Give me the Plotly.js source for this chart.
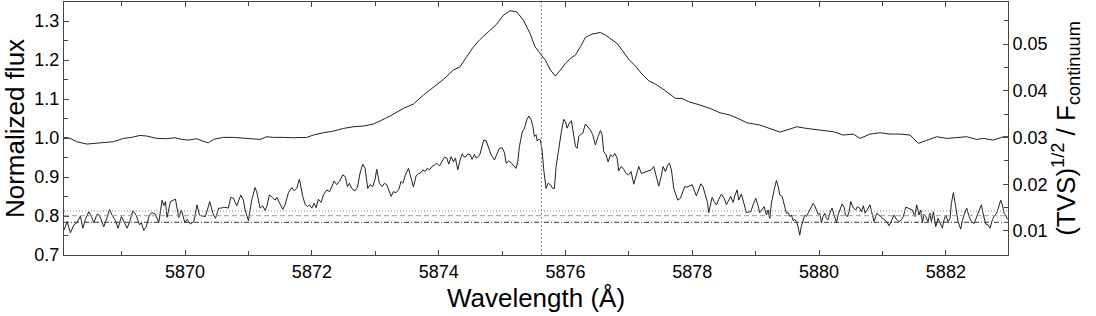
<!DOCTYPE html>
<html>
<head>
<meta charset="utf-8">
<script src="https://cdn.plot.ly/plotly-3.0.1.min.js"></script>
<style>
  html, body { margin: 0; padding: 0; background: #fff; }
  #chart { width: 1096px; height: 316px; }
</style>
</head>
<body>
<div id="chart"></div>
<script>
// normalized line profile (left axis)
const profWl = [5868.09, 5868.107, 5868.186, 5868.291, 5868.449, 5868.606, 5868.764, 5868.869, 5869.027, 5869.158,
  5869.290, 5869.395, 5869.553, 5869.710, 5869.842, 5869.947, 5870.052, 5870.184, 5870.289, 5870.368,
  5870.447, 5870.604, 5870.762, 5870.920, 5871.077, 5871.183, 5871.288, 5871.393, 5871.551, 5871.708,
  5871.919, 5872.024, 5872.182, 5872.339, 5872.497, 5872.655, 5872.812, 5872.970, 5873.102, 5873.233,
  5873.443, 5873.601, 5873.759, 5873.917, 5874.074, 5874.232, 5874.337, 5874.442, 5874.548, 5874.653,
  5874.784, 5874.916, 5875.021, 5875.126, 5875.231, 5875.336, 5875.441, 5875.520, 5875.620, 5875.683,
  5875.762, 5875.841, 5875.920, 5875.999, 5876.078, 5876.157, 5876.235, 5876.314, 5876.419, 5876.551,
  5876.630, 5876.735, 5876.814, 5876.893, 5876.998, 5877.103, 5877.208, 5877.313, 5877.418, 5877.524,
  5877.629, 5877.734, 5877.839, 5877.944, 5878.123, 5878.280, 5878.438, 5878.596, 5878.754, 5878.859,
  5879.069, 5879.227, 5879.385, 5879.490, 5879.647, 5879.805, 5879.963, 5880.121, 5880.226, 5880.383,
  5880.541, 5880.646, 5880.804, 5880.962, 5881.120, 5881.277, 5881.435, 5881.566, 5881.698, 5881.856,
  5882.013, 5882.171, 5882.329, 5882.487, 5882.592, 5882.749, 5882.907, 5882.98];
const profFlux = [1.0000, 1.0017, 0.9991, 0.9906, 0.9846, 0.9863, 0.9880, 0.9906, 0.9991, 1.0017,
  1.0068, 1.0051, 0.9991, 0.9983, 1.0008, 0.9965, 0.9948, 0.9983, 0.9914, 0.9880,
  0.9965, 1.0017, 1.0017, 1.0000, 0.9965, 0.9965, 1.0034, 1.0017, 1.0017, 1.0008,
  1.0017, 1.0077, 1.0136, 1.0179, 1.0247, 1.0290, 1.0307, 1.0359, 1.0461, 1.0564,
  1.0760, 1.0871, 1.1102, 1.1299, 1.1504, 1.1743, 1.1829, 1.2085, 1.2341, 1.2530,
  1.2726, 1.2923, 1.3153, 1.3265, 1.3239, 1.3025, 1.2683, 1.2341, 1.2128, 1.2000,
  1.1744, 1.1590, 1.1744, 1.1914, 1.2042, 1.2128, 1.2341, 1.2581, 1.2666, 1.2709,
  1.2641, 1.2530, 1.2427, 1.2256, 1.2017, 1.1846, 1.1641, 1.1470, 1.1384, 1.1273,
  1.1145, 1.1017, 1.1017, 1.0931, 1.0846, 1.0760, 1.0649, 1.0589, 1.0478, 1.0393,
  1.0333, 1.0247, 1.0153, 1.0205, 1.0290, 1.0247, 1.0222, 1.0188, 1.0162, 1.0077,
  1.0102, 0.9991, 1.0102, 1.0136, 1.0102, 1.0102, 1.0077, 0.9863, 0.9948, 1.0034,
  0.9991, 1.0017, 1.0034, 0.9965, 0.9991, 0.9948, 1.0034, 1.0034];

// (TVS)^1/2 / F_continuum (right axis)
const tvsWl = [5868.090, 5868.102, 5868.139, 5868.191, 5868.244, 5868.297, 5868.349, 5868.386, 5868.428, 5868.481,
  5868.523, 5868.560, 5868.612, 5868.649, 5868.717, 5868.770, 5868.807, 5868.849, 5868.901, 5868.943,
  5868.996, 5869.085, 5869.127, 5869.175, 5869.227, 5869.280, 5869.311, 5869.348, 5869.385, 5869.438,
  5869.480, 5869.532, 5869.585, 5869.637, 5869.664, 5869.690, 5869.716, 5869.769, 5869.848, 5869.900,
  5869.942, 5869.995, 5870.032, 5870.084, 5870.137, 5870.189, 5870.226, 5870.268, 5870.321, 5870.389,
  5870.437, 5870.479, 5870.531, 5870.573, 5870.610, 5870.683, 5870.720, 5870.762, 5870.815, 5870.878,
  5870.920, 5870.946, 5870.999, 5871.051, 5871.104, 5871.130, 5871.183, 5871.225, 5871.262, 5871.288,
  5871.330, 5871.377, 5871.420, 5871.446, 5871.498, 5871.540, 5871.577, 5871.630, 5871.682, 5871.719,
  5871.761, 5871.803, 5871.856, 5871.893, 5871.930, 5871.961, 5871.998, 5872.035, 5872.066, 5872.103,
  5872.145, 5872.182, 5872.234, 5872.277, 5872.313, 5872.350, 5872.392, 5872.434, 5872.487, 5872.529,
  5872.560, 5872.592, 5872.629, 5872.681, 5872.718, 5872.760, 5872.802, 5872.839, 5872.881, 5872.918,
  5872.960, 5872.997, 5873.023, 5873.065, 5873.108, 5873.144, 5873.181, 5873.223, 5873.250, 5873.286,
  5873.328, 5873.371, 5873.407, 5873.434, 5873.476, 5873.523, 5873.565, 5873.602, 5873.644, 5873.686,
  5873.723, 5873.749, 5873.786, 5873.817, 5873.854, 5873.896, 5873.933, 5873.970, 5874.012, 5874.049,
  5874.091, 5874.128, 5874.159, 5874.196, 5874.233, 5874.264, 5874.301, 5874.338, 5874.370, 5874.396,
  5874.422, 5874.459, 5874.496, 5874.527, 5874.564, 5874.590, 5874.627, 5874.653, 5874.685, 5874.711,
  5874.748, 5874.790, 5874.827, 5874.880, 5874.916, 5874.958, 5875.000, 5875.037, 5875.064, 5875.106,
  5875.142, 5875.179, 5875.221, 5875.247, 5875.274, 5875.316, 5875.353, 5875.390, 5875.421, 5875.458,
  5875.484, 5875.510, 5875.537, 5875.552, 5875.578, 5875.604, 5875.631, 5875.657, 5875.694, 5875.725,
  5875.762, 5875.799, 5875.825, 5875.852, 5875.894, 5875.936, 5875.972, 5875.999, 5876.025, 5876.062,
  5876.093, 5876.130, 5876.157, 5876.183, 5876.209, 5876.235, 5876.272, 5876.314, 5876.356, 5876.393,
  5876.430, 5876.472, 5876.514, 5876.551, 5876.577, 5876.603, 5876.640, 5876.672, 5876.709, 5876.745,
  5876.777, 5876.814, 5876.840, 5876.882, 5876.919, 5876.956, 5876.998, 5877.035, 5877.077, 5877.113,
  5877.156, 5877.198, 5877.234, 5877.271, 5877.313, 5877.355, 5877.392, 5877.429, 5877.471, 5877.508,
  5877.539, 5877.576, 5877.613, 5877.639, 5877.671, 5877.708, 5877.744, 5877.771, 5877.813, 5877.849,
  5877.881, 5877.918, 5877.955, 5877.997, 5878.065, 5878.102, 5878.134, 5878.171, 5878.207, 5878.239,
  5878.260, 5878.292, 5878.313, 5878.344, 5878.381, 5878.418, 5878.460, 5878.502, 5878.539, 5878.565,
  5878.607, 5878.644, 5878.670, 5878.707, 5878.733, 5878.775, 5878.817, 5878.854, 5878.891, 5878.922,
  5878.959, 5879.001, 5879.038, 5879.064, 5879.101, 5879.133, 5879.170, 5879.196, 5879.222, 5879.248,
  5879.291, 5879.327, 5879.354, 5879.380, 5879.417, 5879.448, 5879.485, 5879.511, 5879.538, 5879.564,
  5879.590, 5879.616, 5879.643, 5879.669, 5879.695, 5879.722, 5879.748, 5879.774, 5879.800, 5879.827,
  5879.869, 5879.906, 5879.932, 5879.958, 5879.984, 5880.011, 5880.037, 5880.063, 5880.090, 5880.116,
  5880.142, 5880.168, 5880.205, 5880.237, 5880.274, 5880.300, 5880.326, 5880.363, 5880.395, 5880.416,
  5880.447, 5880.473, 5880.499, 5880.541, 5880.578, 5880.604, 5880.641, 5880.667, 5880.699, 5880.725,
  5880.762, 5880.804, 5880.841, 5880.867, 5880.909, 5880.946, 5880.983, 5881.025, 5881.067, 5881.104,
  5881.141, 5881.183, 5881.225, 5881.262, 5881.298, 5881.330, 5881.367, 5881.403, 5881.435, 5881.472,
  5881.509, 5881.540, 5881.577, 5881.603, 5881.630, 5881.656, 5881.682, 5881.719, 5881.750, 5881.772,
  5881.803, 5881.840, 5881.877, 5881.919, 5881.945, 5881.971, 5881.998, 5882.034, 5882.066, 5882.087,
  5882.118, 5882.155, 5882.192, 5882.234, 5882.260, 5882.297, 5882.329, 5882.366, 5882.402, 5882.445,
  5882.487, 5882.523, 5882.560, 5882.592, 5882.629, 5882.666, 5882.697, 5882.734, 5882.771, 5882.802,
  5882.839, 5882.865, 5882.892, 5882.918, 5882.944, 5882.971];
const tvsVal = [0.0102, 0.0106, 0.0120, 0.0096, 0.0113, 0.0118, 0.0132, 0.0106, 0.0125, 0.0141,
  0.0131, 0.0118, 0.0136, 0.0134, 0.0109, 0.0129, 0.0146, 0.0134, 0.0122, 0.0106,
  0.0131, 0.0106, 0.0120, 0.0143, 0.0134, 0.0113, 0.0118, 0.0101, 0.0109, 0.0134,
  0.0139, 0.0136, 0.0118, 0.0166, 0.0154, 0.0163, 0.0129, 0.0163, 0.0168, 0.0129,
  0.0145, 0.0118, 0.0125, 0.0115, 0.0120, 0.0156, 0.0134, 0.0132, 0.0131, 0.0163,
  0.0138, 0.0127, 0.0149, 0.0149, 0.0151, 0.0149, 0.0172, 0.0170, 0.0154, 0.0177,
  0.0166, 0.0145, 0.0122, 0.0166, 0.0193, 0.0184, 0.0149, 0.0154, 0.0144, 0.0152,
  0.0177, 0.0172, 0.0166, 0.0172, 0.0156, 0.0146, 0.0156, 0.0182, 0.0193, 0.0186,
  0.0191, 0.0211, 0.0174, 0.0157, 0.0152, 0.0156, 0.0149, 0.0159, 0.0150, 0.0168,
  0.0161, 0.0177, 0.0188, 0.0184, 0.0194, 0.0207, 0.0199, 0.0206, 0.0220, 0.0216,
  0.0195, 0.0202, 0.0191, 0.0186, 0.0193, 0.0224, 0.0243, 0.0234, 0.0191, 0.0199,
  0.0195, 0.0211, 0.0232, 0.0202, 0.0195, 0.0202, 0.0199, 0.0181, 0.0174, 0.0184,
  0.0182, 0.0189, 0.0206, 0.0202, 0.0220, 0.0234, 0.0213, 0.0194, 0.0218, 0.0223,
  0.0225, 0.0231, 0.0227, 0.0234, 0.0231, 0.0238, 0.0241, 0.0245, 0.0239, 0.0248,
  0.0258, 0.0256, 0.0243, 0.0259, 0.0248, 0.0256, 0.0231, 0.0252, 0.0265, 0.0259,
  0.0258, 0.0265, 0.0263, 0.0253, 0.0264, 0.0256, 0.0259, 0.0265, 0.0281, 0.0295,
  0.0293, 0.0277, 0.0263, 0.0252, 0.0263, 0.0277, 0.0278, 0.0268, 0.0245, 0.0250,
  0.0246, 0.0241, 0.0234, 0.0248, 0.0281, 0.0311, 0.0320, 0.0338, 0.0346, 0.0338,
  0.0325, 0.0302, 0.0306, 0.0293, 0.0296, 0.0295, 0.0273, 0.0231, 0.0191, 0.0202,
  0.0199, 0.0191, 0.0191, 0.0238, 0.0281, 0.0313, 0.0339, 0.0334, 0.0320, 0.0331,
  0.0336, 0.0309, 0.0281, 0.0277, 0.0302, 0.0306, 0.0309, 0.0329, 0.0323, 0.0316,
  0.0306, 0.0284, 0.0302, 0.0315, 0.0306, 0.0270, 0.0263, 0.0248, 0.0263, 0.0259,
  0.0266, 0.0256, 0.0229, 0.0238, 0.0232, 0.0223, 0.0220, 0.0227, 0.0200, 0.0216,
  0.0238, 0.0223, 0.0225, 0.0227, 0.0229, 0.0231, 0.0238, 0.0220, 0.0196, 0.0216,
  0.0238, 0.0227, 0.0241, 0.0245, 0.0231, 0.0191, 0.0174, 0.0166, 0.0170, 0.0184,
  0.0195, 0.0194, 0.0196, 0.0199, 0.0175, 0.0189, 0.0201, 0.0194, 0.0179, 0.0161,
  0.0139, 0.0159, 0.0172, 0.0163, 0.0156, 0.0168, 0.0179, 0.0170, 0.0156, 0.0163,
  0.0174, 0.0161, 0.0175, 0.0188, 0.0166, 0.0179, 0.0156, 0.0139, 0.0141, 0.0141,
  0.0156, 0.0170, 0.0154, 0.0139, 0.0146, 0.0152, 0.0134, 0.0145, 0.0127, 0.0159,
  0.0188, 0.0208, 0.0196, 0.0177, 0.0174, 0.0154, 0.0138, 0.0139, 0.0131, 0.0134,
  0.0122, 0.0125, 0.0120, 0.0109, 0.0091, 0.0111, 0.0122, 0.0134, 0.0131, 0.0139,
  0.0149, 0.0159, 0.0154, 0.0145, 0.0136, 0.0138, 0.0118, 0.0131, 0.0138, 0.0127,
  0.0124, 0.0138, 0.0149, 0.0134, 0.0118, 0.0134, 0.0146, 0.0158, 0.0151, 0.0134,
  0.0131, 0.0141, 0.0163, 0.0149, 0.0145, 0.0152, 0.0149, 0.0141, 0.0154, 0.0138,
  0.0146, 0.0156, 0.0134, 0.0120, 0.0138, 0.0134, 0.0129, 0.0124, 0.0120, 0.0111,
  0.0122, 0.0134, 0.0124, 0.0120, 0.0124, 0.0131, 0.0151, 0.0149, 0.0146, 0.0145,
  0.0131, 0.0156, 0.0134, 0.0145, 0.0118, 0.0136, 0.0131, 0.0120, 0.0138, 0.0120,
  0.0141, 0.0109, 0.0127, 0.0116, 0.0106, 0.0124, 0.0134, 0.0120, 0.0127, 0.0159,
  0.0182, 0.0152, 0.0120, 0.0104, 0.0122, 0.0138, 0.0149, 0.0131, 0.0120, 0.0116,
  0.0131, 0.0145, 0.0156, 0.0134, 0.0115, 0.0113, 0.0106, 0.0124, 0.0134, 0.0138,
  0.0152, 0.0166, 0.0156, 0.0138, 0.0134, 0.0125];

// significance levels of the TVS and the rest wavelength
const levelVals = [0.01428, 0.01327, 0.01186];
const levelDash = ["1px,2px", "5px,3px", "5px,2px,1px,2px"];
const levelColor = ["#888", "#999", "#333"];
const restWl = 5875.62;

const tickFont = { family: "Liberation Sans, Arial, sans-serif", size: 18, color: "#000" };
const titleFont = { family: "Liberation Sans, Arial, sans-serif", size: 26, color: "#000" };

const traces = [
  {
    x: profWl, y: profFlux, type: "scatter", mode: "lines",
    line: { color: "#222", width: 1 }, yaxis: "y", hoverinfo: "x+y"
  },
  {
    x: tvsWl, y: tvsVal, type: "scatter", mode: "lines",
    line: { color: "#222", width: 1 }, yaxis: "y2", hoverinfo: "x+y"
  }
];

const shapes = levelVals.map((v, i) => ({
  type: "line", xref: "paper", x0: 0, x1: 1, yref: "y2", y0: v, y1: v,
  line: { color: levelColor[i], width: 1, dash: levelDash[i] }
}));
shapes.push({
  type: "line", xref: "x", x0: restWl, x1: restWl, yref: "paper", y0: 0, y1: 1,
  line: { color: "#888", width: 1, dash: "2px,2px" }
});

const layout = {
  width: 1096, height: 316,
  margin: { l: 64, r: 88, t: 2, b: 61 },
  paper_bgcolor: "#fff", plot_bgcolor: "#fff",
  showlegend: false,
  xaxis: {
    range: [5868.09, 5882.98],
    tick0: 5870, dtick: 2,
    ticks: "inside", ticklen: 5, tickcolor: "#444",
    minor: { dtick: 1, ticks: "inside", ticklen: 4, tickcolor: "#444" },
    showline: true, linecolor: "#444", linewidth: 1, mirror: "ticks",
    showgrid: false, zeroline: false,
    tickfont: tickFont,
    title: { text: "Wavelength (Å)", font: titleFont, standoff: 8 }
  },
  yaxis: {
    range: [0.7, 1.349],
    tick0: 0.7, dtick: 0.1, tickformat: ".1f",
    ticks: "inside", ticklen: 5, tickcolor: "#444",
    minor: { dtick: 0.05, ticks: "inside", ticklen: 4, tickcolor: "#444" },
    showline: true, linecolor: "#444", linewidth: 1,
    showgrid: false, zeroline: false,
    tickfont: tickFont,
    title: { text: "Normalized flux", font: titleFont, standoff: 6 }
  },
  yaxis2: {
    overlaying: "y", side: "right",
    range: [0.00486, 0.059],
    tick0: 0, dtick: 0.01, tickformat: ".2f",
    ticks: "inside", ticklen: 5, tickcolor: "#444",
    minor: { dtick: 0.005, ticks: "inside", ticklen: 4, tickcolor: "#444" },
    showline: true, linecolor: "#444", linewidth: 1,
    showgrid: false, zeroline: false,
    tickfont: tickFont,
    title: { text: "(TVS)<sup>1/2</sup> / F<sub>continuum</sub>", font: titleFont, standoff: 8 }
  },
  shapes: shapes
};

Plotly.newPlot("chart", traces, layout, { staticPlot: true });
</script>
</body>
</html>
